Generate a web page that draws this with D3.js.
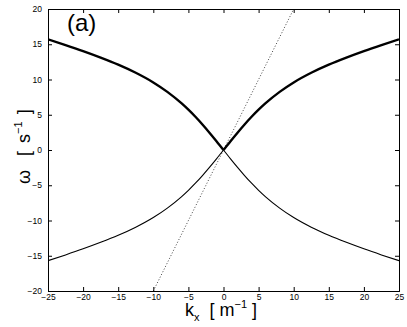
<!DOCTYPE html>
<html>
<head>
<meta charset="utf-8">
<script src="https://cdn.jsdelivr.net/npm/d3@7"></script>
<style>
  body { margin: 0; background: #fff; }
  svg { display: block; font-family: "Liberation Sans", Arial, sans-serif; }
</style>
</head>
<body>
<div id="chart"></div>
<script>
"use strict";

// |k| samples (m^-1) and the frequency of the upper branch (s^-1)
var kPos = [0, 1, 2, 3, 4, 5, 6, 8, 10, 12.5, 15, 17.5, 20, 22.5, 25];
var omegaPos = [0, 1.25, 2.46, 3.62, 4.71, 5.72, 6.64, 8.24, 9.58, 10.95, 12.1, 13.1, 14.02, 14.88, 15.7];
// straight dotted line end points
var lineK = [-10, 10];
var lineOmega = [-20, 20];

var xTicks = [-25, -20, -15, -10, -5, 0, 5, 10, 15, 20, 25];
var yTicks = [-20, -15, -10, -5, 0, 5, 10, 15, 20];

var W = 407, H = 327;
var margin = { top: 9, right: 8, bottom: 36, left: 48 },
	width = W - margin.left - margin.right,
	height = H - margin.top - margin.bottom;

var svg = d3.select("#chart").append("svg")
	.attr("width", W).attr("height", H);
var g = svg.append("g")
	.attr("transform", "translate(" + margin.left + "," + margin.top + ")");

var x = d3.scaleLinear().domain([-25, 25]).range([0, width]);
var y = d3.scaleLinear().domain([-20, 20]).range([height, 0]);

// upper (thick) and lower (thin) branches, mirrored in k
var upper = [], lower = [];
for (var i = kPos.length - 1; i > 0; i--) {
	upper.push([-kPos[i], omegaPos[i]]);
	lower.push([-kPos[i], -omegaPos[i]]);
}
for (var j = 0; j < kPos.length; j++) {
	upper.push([kPos[j], omegaPos[j]]);
	lower.push([kPos[j], -omegaPos[j]]);
}

// smooth each side separately so the V at k = 0 stays sharp
function half(pts, neg) {
	return pts.filter(function (d) { return neg ? d[0] <= 0 : d[0] >= 0; });
}

var line = d3.line()
	.x(function (d) { return x(d[0]); })
	.y(function (d) { return y(d[1]); })
	.curve(d3.curveMonotoneX);

g.append("defs").append("clipPath").attr("id", "clip")
	.append("rect").attr("width", width).attr("height", height);

var plot = g.append("g").attr("clip-path", "url(#clip)");

plot.append("path")
	.datum([[lineK[0], lineOmega[0]], [lineK[1], lineOmega[1]]])
	.attr("d", d3.line().x(function (d) { return x(d[0]); }).y(function (d) { return y(d[1]); }))
	.attr("fill", "none").attr("stroke", "#444").attr("stroke-width", 1)
	.attr("stroke-dasharray", "1,2");

[true, false].forEach(function (neg) {
	plot.append("path").datum(half(lower, neg))
		.attr("d", line).attr("fill", "none")
		.attr("stroke", "#000").attr("stroke-width", 1.1);
	plot.append("path").datum(half(upper, neg))
		.attr("d", line).attr("fill", "none")
		.attr("stroke", "#000").attr("stroke-width", 2.4);
});

// axes, ticks pointing inwards on all four sides
function fmt(d) { return d < 0 ? "\u2212" + Math.abs(d) : String(d); }

var xAxis = g.append("g").attr("transform", "translate(0," + height + ")")
	.call(d3.axisBottom(x).tickValues(xTicks).tickSize(-4).tickPadding(3).tickFormat(fmt));
var xTop = g.append("g")
	.call(d3.axisTop(x).tickValues(xTicks).tickSize(-4).tickFormat(""));
var yAxis = g.append("g")
	.call(d3.axisLeft(y).tickValues(yTicks).tickSize(-4).tickPadding(6).tickFormat(fmt));
var yRight = g.append("g").attr("transform", "translate(" + width + ",0)")
	.call(d3.axisRight(y).tickValues(yTicks).tickSize(-4).tickFormat(""));

[xAxis, xTop, yAxis, yRight].forEach(function (a) {
	a.select(".domain").attr("stroke", "#000").attr("stroke-width", 1);
	a.selectAll(".tick line").attr("stroke", "#000");
	a.selectAll("text").attr("font-size", 8.5).attr("fill", "#000")
		.attr("font-family", "Liberation Sans, Arial, sans-serif");
});

// panel label
svg.append("text").attr("x", 67).attr("y", 31)
	.attr("font-size", 24).text("(a)");

// x label: k_x [ m^-1 ]
var xl = svg.append("text")
	.attr("x", 185).attr("y", 316)
	.attr("font-size", 18);
xl.append("tspan").text("k");
xl.append("tspan").attr("font-size", 11).attr("dy", 5).text("x");
xl.append("tspan").attr("dy", -5).text("\u00a0\u00a0[ m");
xl.append("tspan").attr("font-size", 11).attr("dy", -8).text("\u22121");
xl.append("tspan").attr("dy", 8).text(" ]");

// y label: ω [ s^-1 ]
var yl = svg.append("text")
	.attr("transform", "translate(30,184) rotate(-90)")
	.attr("font-size", 18);
yl.append("tspan").text("\u03c9");
yl.append("tspan").attr("dx", 4).text("\u00a0\u00a0[");
yl.append("tspan").attr("dx", 3).text("\u00a0s");
yl.append("tspan").attr("font-size", 11).attr("dy", -8).text("\u22121");
yl.append("tspan").attr("dy", 8).attr("dx", 2).text(" ]");
</script>
</body>
</html>
